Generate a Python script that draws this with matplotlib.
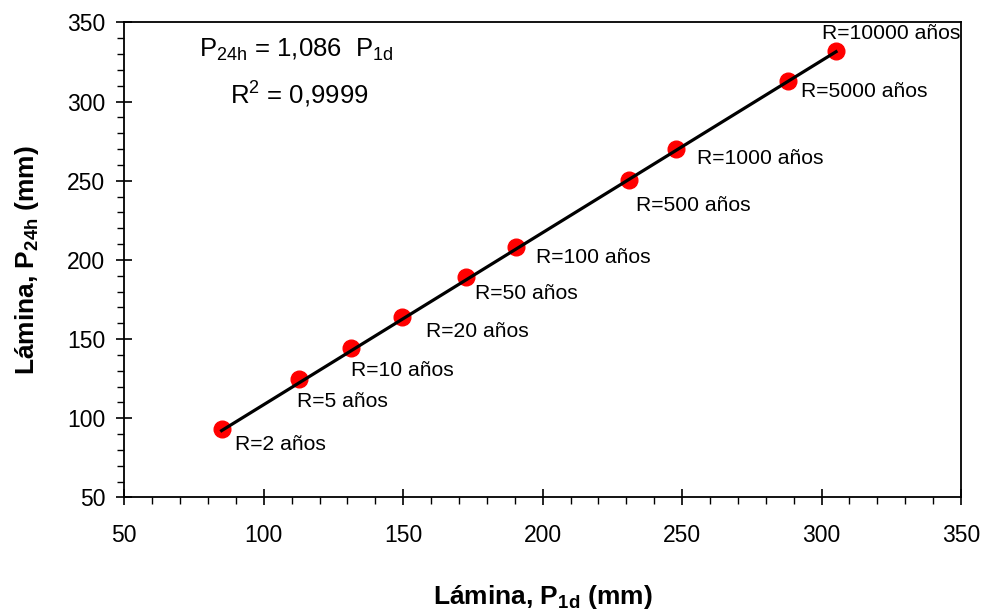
import numpy as np
import matplotlib
matplotlib.use('Agg')
import matplotlib.pyplot as plt
import matplotlib.ticker as mtick

# global style
matplotlib.rcParams['font.family'] = ['Liberation Sans', 'DejaVu Sans']
matplotlib.rcParams['mathtext.fontset'] = 'custom'
matplotlib.rcParams['mathtext.rm'] = 'Liberation Sans'

# data
periods = ['R=2 años', 'R=5 años', 'R=10 años', 'R=20 años', 'R=50 años',
           'R=100 años', 'R=500 años', 'R=1000 años', 'R=5000 años', 'R=10000 años']
p1d = [84.9, 112.7, 131.3, 149.4, 172.5, 190.4, 230.8, 247.9, 288.0, 305.2]
p24h = [93.0, 124.7, 144.3, 163.7, 189.0, 208.0, 250.6, 269.8, 312.8, 331.8]
slope = 1.086
r2 = 0.9999

# label placement (pixels from each point)
label_offsets = [(13, -15), (-2, -22), (0, -22), (24, -14), (9, -16),
                 (20, -10), (7, -26), (21, -9), (13, -10), (-14, 18)]

fig = plt.figure(figsize=(9.84, 6.15), dpi=100)
ax = fig.add_axes([0.1263, 0.1911, 0.8503, 0.7726])

xs = np.array([min(p1d), max(p1d)])
ax.plot(p1d, p24h, 'o', color='#ff0000', markersize=12, zorder=2)
ax.plot(xs, slope * xs, '-', color='k', linewidth=2.3, zorder=3)

for name, x, y, off in zip(periods, p1d, p24h, label_offsets):
    ax.annotate(name, (x, y), xytext=off, textcoords='offset pixels',
                ha='left', va='center', fontsize=15.2)

eq_text = 'P$_{\\mathregular{24h}}$ = ' + '{:.3f}'.format(slope).replace('.', ',') + '  P$_{\\mathregular{1d}}$'
r2_text = 'R$^{\\mathregular{2}}$ = ' + '{:.4f}'.format(r2).replace('.', ',')
ax.text(76.8, 332.5, eq_text, ha='left', va='center', fontsize=18.5)
ax.text(87.9, 304.8, r2_text, ha='left', va='center', fontsize=18.5)

ax.set_xlim(50, 350)
ax.set_ylim(50, 350)
ax.xaxis.set_major_locator(mtick.MultipleLocator(50))
ax.xaxis.set_minor_locator(mtick.MultipleLocator(10))
ax.yaxis.set_major_locator(mtick.MultipleLocator(50))
ax.yaxis.set_minor_locator(mtick.MultipleLocator(10))
ax.tick_params(which='major', direction='inout', length=11.5, width=1.2, labelsize=16.5)
ax.tick_params(axis='x', which='major', pad=13)
ax.tick_params(axis='y', which='major', pad=8)
ax.tick_params(which='minor', direction='out', length=5, width=1)

for s in ax.spines.values():
    s.set_linewidth(1.3)

ax.set_xlabel('Lámina, P$_{\\mathregular{1d}}$ (mm)', fontsize=19, fontweight='bold', labelpad=26)
ax.set_ylabel('Lámina, P$_{\\mathregular{24h}}$ (mm)', fontsize=19, fontweight='bold', labelpad=19)

fig.savefig('out.png', dpi=100)
